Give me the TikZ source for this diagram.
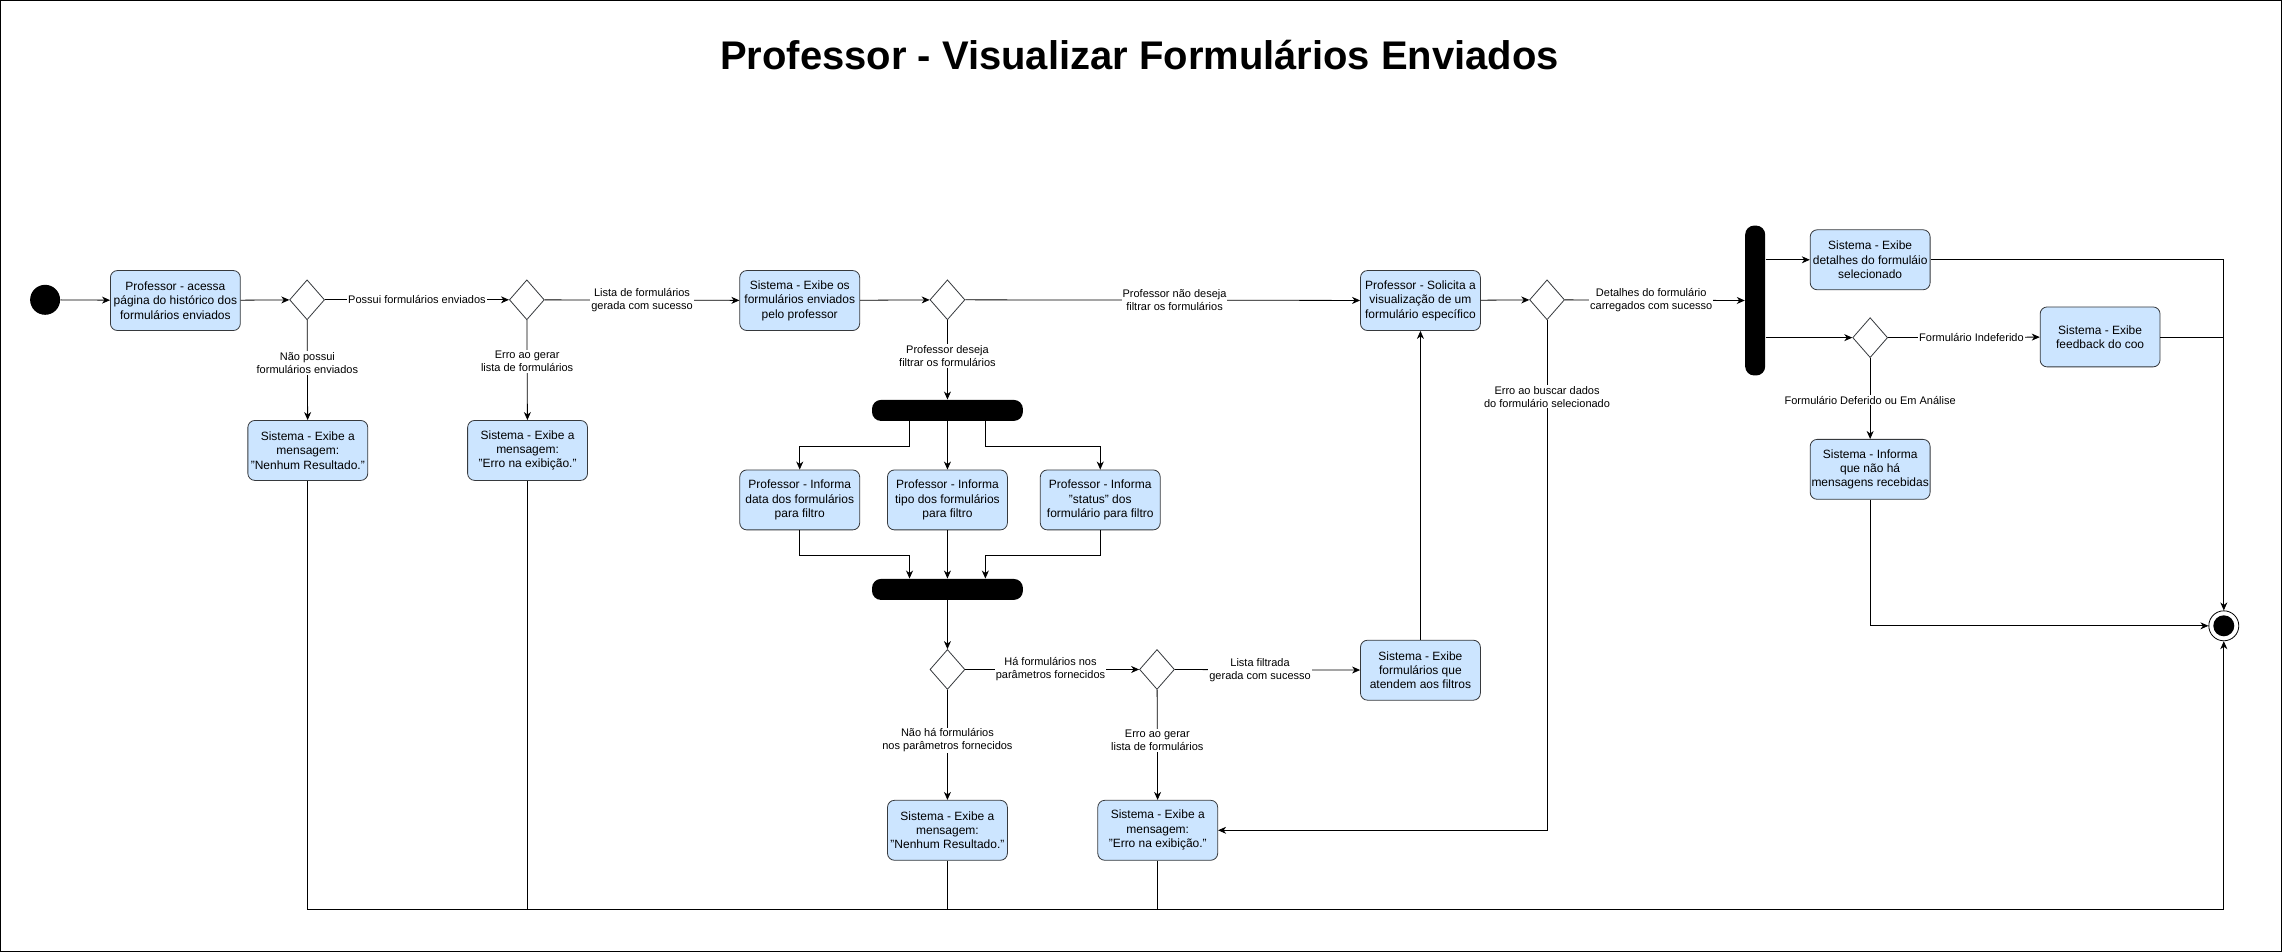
\documentclass[tikz,border=0pt]{standalone}
\usepackage{fontspec}
\setmainfont{Liberation Sans}
\usetikzlibrary{shapes.geometric,arrows.meta,calc}
\definecolor{boxblue}{HTML}{CCE5FF}
\definecolor{boxline}{HTML}{36393D}

\begin{document}
\begin{tikzpicture}[x=0.0512cm, y=-0.0512cm, line width=0.8pt,
    act/.style={rectangle, draw=boxline, fill=boxblue, rounded corners=7pt, minimum width=120pt, minimum height=60pt, align=center, inner sep=1pt, font=\fontsize{12}{14.4}\selectfont},
    choice/.style={diamond, draw=boxline, fill=white, minimum width=35pt, minimum height=40pt, inner sep=0pt},
    sync/.style={rectangle, fill=black, rounded corners=9pt},
    lbl/.style={fill=white, inner sep=1pt, align=center, font=\fontsize{11}{13.2}\selectfont},
    arr/.style={-{Stealth[length=8pt,width=7pt,inset=2.5pt]}}]

    \useasboundingbox (0,0) rectangle (1568,654);
    \draw (0.4,0.4) rectangle (1567.6,653.6);

    % title
    \node[font=\fontsize{40}{48}\selectfont\bfseries] (title) at (783,38) {Professor - Visualizar Formulários Enviados};

    % main row
    \node[circle, fill=black, minimum size=30pt, inner sep=0pt] (start) at (31,206) {};
    \node[act, minimum width=130pt] (acessa) at (120.5,206.5) {Professor - acessa\\página do histórico dos\\formulários enviados};
    \node[choice] (d1) at (211,206) {};
    \node[act] (nada1) at (211.5,309.5) {Sistema - Exibe a\\mensagem:\\"Nenhum Resultado."};
    \node[choice] (d2) at (362,206) {};
    \node[act] (erro1) at (362.5,309.5) {Sistema - Exibe a\\mensagem:\\"Erro na exibição."};
    \node[act] (lista) at (549.5,206.5) {Sistema - Exibe os\\formulários enviados\\pelo professor};
    \node[choice] (d3) at (651,206) {};
    \node[act] (solicita) at (976,206.5) {Professor - Solicita a\\visualização de um\\formulário específico};
    \node[choice] (d6) at (1063,206) {};

    % filtros
    \node[sync, minimum width=151pt, minimum height=21pt] (fork1) at (651,282) {};
    \node[act] (fdata) at (549.5,343.5) {Professor - Informa\\data dos formulários\\para filtro};
    \node[act] (ftipo) at (651,343.5) {Professor - Informa\\tipo dos formulários\\para filtro};
    \node[act] (fstatus) at (756,343.5) {Professor - Informa\\"status" dos\\formulário para filtro};
    \node[sync, minimum width=151pt, minimum height=21pt] (join1) at (651,405) {};
    \node[choice] (d4) at (651,460) {};
    \node[choice] (d5) at (795,460) {};
    \node[act] (filtrada) at (976,460.5) {Sistema - Exibe\\formulários que\\atendem aos filtros};
    \node[act] (nada2) at (651,570.5) {Sistema - Exibe a\\mensagem:\\"Nenhum Resultado."};
    \node[act] (erro2) at (795.5,570.5) {Sistema - Exibe a\\mensagem:\\"Erro na exibição."};

    % detalhes
    \node[sync, minimum width=20pt, minimum height=150pt] (fork2) at (1206,206.5) {};
    \node[act] (detalhes) at (1285,178.5) {Sistema - Exibe\\detalhes do formuláio\\selecionado};
    \node[choice] (d7) at (1285,232) {};
    \node[act] (feedback) at (1443,231.5) {Sistema - Exibe\\feedback do coo};
    \node[act] (semmsg) at (1285,322.5) {Sistema - Informa\\que não há\\mensagens recebidas};
    \node[circle, draw, minimum size=30pt, inner sep=0pt,
        path picture={\fill (path picture bounding box.center) circle (10.5pt);}] (end) at (1528,430) {};
    \coordinate (bot) at (1528,625);

    % connectors
    \draw[arr] (start) -- (acessa);
    \draw[arr] (acessa) -- (d1);
    \draw[arr] (d1) -- node[lbl] {Possui formulários enviados} (d2);
    \draw[arr] (d1) -- node[lbl, pos=0.43] {Não possui\\formulários enviados} (nada1);
    \draw[arr] (d2) -- node[lbl] {Lista de formulários\\gerada com sucesso} (lista);
    \draw[arr] (d2) -- node[lbl, pos=0.41] {Erro ao gerar\\lista de formulários} (erro1);
    \draw[arr] (lista) -- (d3);
    \draw[arr] (d3) -- node[lbl, pos=0.53] {Professor não deseja\\filtrar os formulários} (solicita);
    \draw[arr] (d3) -- node[lbl, pos=0.45] {Professor deseja\\filtrar os formulários} (fork1);

    \draw[arr] ($(fork1.south west)!0.25!(fork1.south east)$) -- ++(0,17) -| (fdata.north);
    \draw[arr] (fork1) -- (ftipo);
    \draw[arr] ($(fork1.south west)!0.75!(fork1.south east)$) -- ++(0,17) -| (fstatus.north);
    \draw[arr] (fdata.south) -- ++(0,17) -| ($(join1.north west)!0.25!(join1.north east)$);
    \draw[arr] (ftipo) -- (join1);
    \draw[arr] (fstatus.south) -- ++(0,17) -| ($(join1.north west)!0.75!(join1.north east)$);
    \draw[arr] (join1) -- (d4);

    \draw[arr] (d4) -- node[lbl, pos=0.49] {Há formulários nos\\parâmetros fornecidos} (d5);
    \draw[arr] (d4) -- node[lbl, pos=0.46] {Não há formulários\\nos parâmetros fornecidos} (nada2);
    \draw[arr] (d5) -- node[lbl, pos=0.46] {Lista filtrada\\gerada com sucesso} (filtrada);
    \draw[arr] (d5) -- node[lbl, pos=0.46] {Erro ao gerar\\lista de formulários} (erro2);
    \draw[arr] (filtrada) -- (solicita);

    \draw[arr] (solicita) -- (d6);
    \draw[arr] (d6) -- node[lbl, pos=0.48] {Detalhes do formulário\\carregados com sucesso} (fork2);
    \draw[arr] (d6.south) |- node[lbl, pos=0.075] {Erro ao buscar dados\\do formulário selecionado} (erro2.east);

    \draw[arr] (fork2.east |- detalhes) -- (detalhes);
    \draw[arr] (fork2.east |- d7) -- (d7);
    \draw[arr] (d7) -- node[lbl, pos=0.55] {Formulário Indeferido} (feedback);
    \draw[arr] (d7) -- node[lbl, pos=0.52] {Formulário Deferido ou Em Análise} (semmsg);

    \draw[arr] (detalhes.east) -| (end.north);
    \draw (feedback.east) -- (feedback.east -| end.north);
    \draw[arr] (semmsg.south) |- (end.west);

    \draw[arr] (nada1.south) |- (bot) -- (end.south);
    \draw (erro1.south) -- (erro1.south |- bot);
    \draw (nada2.south) -- (nada2.south |- bot);
    \draw (erro2.south) -- (erro2.south |- bot);
\end{tikzpicture}
\end{document}
